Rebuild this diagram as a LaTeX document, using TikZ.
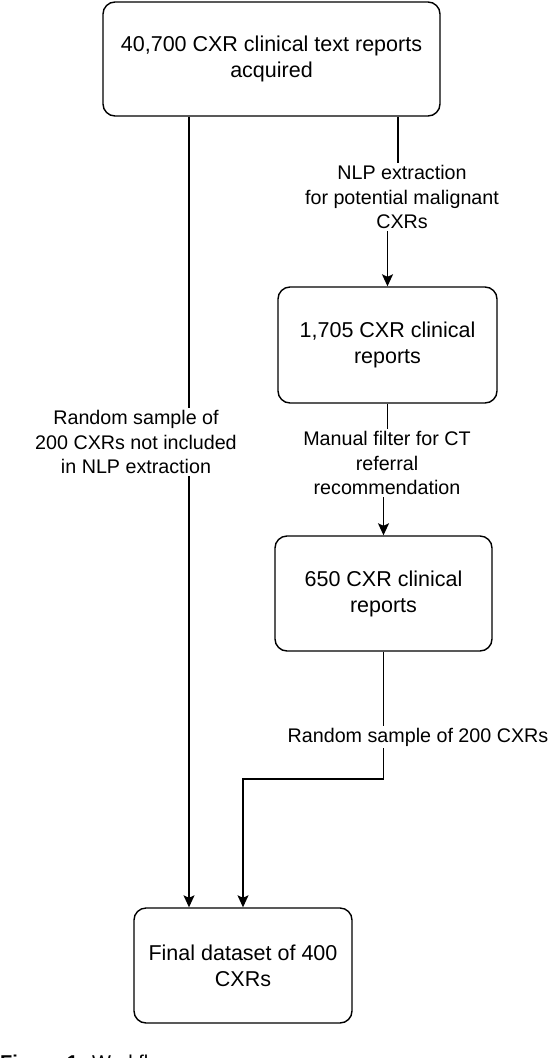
\documentclass[tikz,border=0pt]{standalone}
\usepackage{fontspec}
\setmainfont{Liberation Sans}
\usetikzlibrary{arrows.meta,calc}
\begin{document}
\begin{tikzpicture}[x=1pt,y=-1pt,
  box/.style={draw=black, line width=1.4pt, rounded corners=12pt, align=center,
    font=\fontsize{21.5}{26}\selectfont, inner sep=0pt},
  lbl/.style={fill=white, align=center, font=\fontsize{19.7}{24.5}\selectfont, inner sep=2pt},
  conn/.style={draw=black, line width=1.3pt},
  arr/.style={conn, -{Stealth[length=12pt,width=11pt,inset=2.5pt]}}
]
\clip (0,0) rectangle (550,1058);
\useasboundingbox (0,0) rectangle (550,1058);

% boxes
\node[box, minimum width=337pt, minimum height=114pt] (b1) at (271.5,59) {40,700 CXR clinical text reports\\acquired};
\node[box, minimum width=219pt, minimum height=116pt] (b2) at (387.5,345) {1,705 CXR clinical\\reports};
\node[box, minimum width=217pt, minimum height=115pt] (b3) at (383.5,593.5) {650 CXR clinical\\reports};
\node[box, minimum width=218pt, minimum height=115pt] (b4) at (243,965.5) {Final dataset of 400\\CXRs};

% helper coordinates
\coordinate (L) at (189,0);
\coordinate (c1) at (398,197);
\coordinate (c2) at (387.5,463);
\coordinate (c3) at (243,779);

% connectors
\draw[arr] (b1.south -| L) -- (b4.north -| L);
\draw[arr] (b1.south -| c1) -- (c1) -| (b2.north);
\draw[arr] (b2.south -| c2) -- (c2) -| (b3.north);
\draw[arr] (b3.south) |- (c3) -- (b4.north);

% labels
\node[lbl] (l0) at (136,442) {Random sample of\\200 CXRs not included\\in NLP extraction};
\node[lbl] (l1) at (402,197) {NLP extraction\\for potential malignant\\CXRs};
\node[lbl] (l2) at (387,463) {Manual filter for CT\\referral\\recommendation};
\node[lbl] (l3) at (418,737) {Random sample of 200 CXRs};

% caption (cut off at the bottom edge)
\node[anchor=north west, inner sep=0pt, font=\fontsize{20}{24}\selectfont] (cap) at (0,1055) {\textbf{Figure 1:} Workflow};
\end{tikzpicture}
\end{document}
